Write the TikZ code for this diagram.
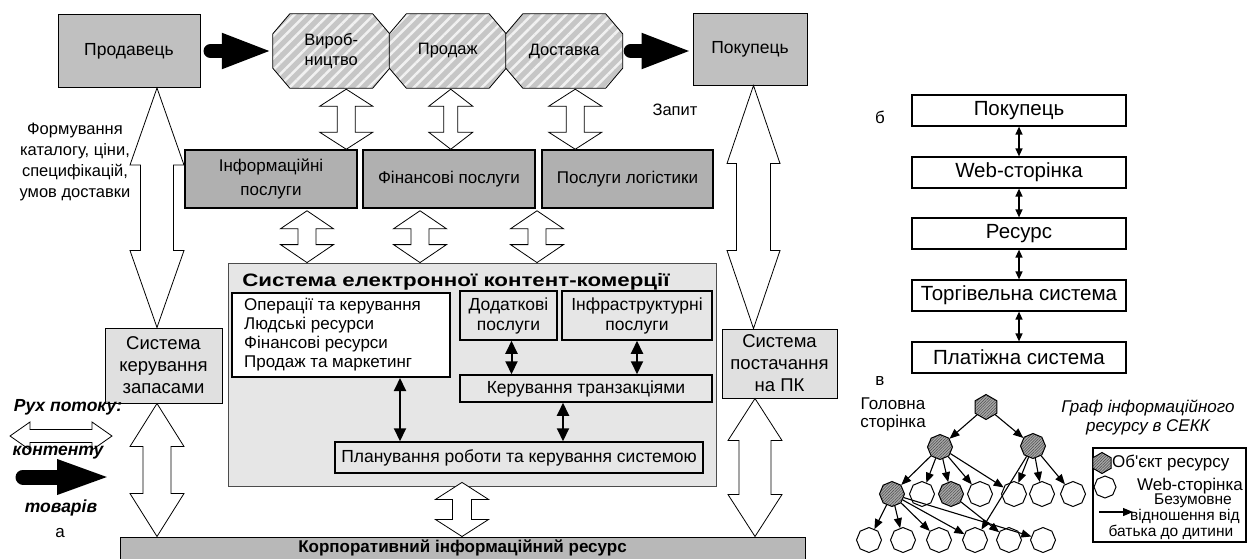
\documentclass[tikz,border=0pt]{standalone}
\usepackage{fontspec}
\setmainfont{Liberation Sans}
\newfontfamily\plainsans{Liberation Sans}
\usetikzlibrary{calc,arrows.meta,shapes.geometric,patterns.meta}

\definecolor{partygray}{HTML}{C0C0C0}
\definecolor{stagegray}{HTML}{C6C6C6}
\definecolor{svcgray}{HTML}{B0B0B0}
\definecolor{stockgray}{HTML}{E0E0E0}
\definecolor{panelgray}{HTML}{E6E6E6}
\definecolor{corpgray}{HTML}{B8B8B8}
\definecolor{nodegray}{HTML}{A8A8A8}

\pgfdeclarelayer{bg}
\pgfsetlayers{bg,main}

\newcommand\fsz[2]{\fontsize{#1}{#2}\selectfont}

% hollow double-headed block arrow, vertical: start point, end point,
% half head width, half shaft width, head length
\newcommand\hollowv[5]{%
  \draw[hollow] let \p1=#1, \p2=#2 in
    (\x1,\y1) -- (\x1+#3,\y1-#5) -- (\x1+#4,\y1-#5) -- (\x1+#4,\y2+#5)
    -- (\x1+#3,\y2+#5) -- (\x1,\y2) -- (\x1-#3,\y2+#5) -- (\x1-#4,\y2+#5)
    -- (\x1-#4,\y1-#5) -- (\x1-#3,\y1-#5) -- cycle;}
% the same, horizontal
\newcommand\hollowh[5]{%
  \draw[hollow] let \p1=#1, \p2=#2 in
    (\x1,\y1) -- (\x1+#5,\y1+#3) -- (\x1+#5,\y1+#4) -- (\x2-#5,\y1+#4)
    -- (\x2-#5,\y1+#3) -- (\x2,\y1) -- (\x2-#5,\y1-#3) -- (\x2-#5,\y1-#4)
    -- (\x1+#5,\y1-#4) -- (\x1+#5,\y1-#3) -- cycle;}
% octagonal stage outline around a rectangular node
\newcommand\stageshape[1]{%
  \path[stagefill] ($(#1.north west)+(17,0)$) -- ($(#1.north east)+(-17,0)$)
    -- ($(#1.north east)+(0,20)$) -- ($(#1.south east)+(0,-20)$)
    -- ($(#1.south east)+(-17,0)$) -- ($(#1.south west)+(17,0)$)
    -- ($(#1.south west)+(0,-20)$) -- ($(#1.north west)+(0,20)$) -- cycle;}

\tikzset{
  box/.style={draw, line width=1pt, align=center, inner sep=0pt},
  party/.style={box, fill=partygray, minimum width=142pt, minimum height=73pt, font=\fsz{17.5}{21}},
  stage/.style={align=center, inner sep=0pt, minimum width=116.5pt, minimum height=74pt, font=\fsz{16.5}{20}},
  stagefill/.style={draw, line width=0.8pt, preaction={fill=stagegray},
    pattern={Lines[angle=45,distance=8pt,line width=2.5pt]}, pattern color=white!75!stagegray},
  svc/.style={box, line width=1.5pt, fill=svcgray, minimum height=58pt, font=\fsz{17}{24}},
  stock/.style={box, fill=stockgray, font=\fsz{18.5}{22}},
  inner/.style={box, line width=1.5pt, fill=panelgray, font=\fsz{17.5}{20}},
  hollow/.style={draw, fill=white, line width=0.8pt, line join=miter},
  goods/.style={line width=14pt, line cap=round, -{Triangle[length=51pt,width=32pt]}},
  blk/.style={line width=2pt, {Triangle[length=13pt,width=12pt]}-{Triangle[length=13pt,width=12pt]}},
  chain/.style={box, line width=1.2pt, minimum width=214pt, minimum height=31pt, font=\fsz{20.5}{23}},
  small/.style={line width=1.3pt, {Triangle[length=8pt,width=7pt]}-{Triangle[length=8pt,width=7pt]}},
  obj/.style={regular polygon, regular polygon sides=8, shape border rotate=22.5, minimum size=25pt, inner sep=0pt,
    draw, line width=1pt, preaction={fill=nodegray}, pattern={Lines[angle=45,distance=2pt,line width=0.5pt]}, pattern color=black!70},
  objhex/.style={obj, regular polygon sides=6, shape border rotate=30},
  page/.style={regular polygon, regular polygon sides=8, shape border rotate=22.5, minimum size=25pt, inner sep=0pt,
    draw, line width=1pt, fill=white},
  garrow/.style={line width=1.1pt, -{Triangle[length=10pt,width=8pt]}},
  lbl/.style={inner sep=0pt, align=center},
  legendfont/.style={font=\bfseries\itshape\fsz{17.5}{20}},
}

\begin{document}
\begin{tikzpicture}[x=1pt,y=-1pt]
\useasboundingbox (0,0) rectangle (1247,558);

% ---------- value chain ----------
\node[party] (prod) at (129,51) {Продавець};
\node[party, minimum width=114pt, minimum height=72pt] (pok) at (750,49) {Покупець};
\node[stage] (oct1) at (331.25,51) {Вироб-\\ництво};
\node[stage] (oct2) at (447.75,51) {Продаж};
\node[stage] (oct3) at (564.25,51) {Доставка};
\begin{pgfonlayer}{bg}
  \stageshape{oct1}\stageshape{oct2}\stageshape{oct3}
\end{pgfonlayer}
\draw[goods, shorten <=10pt] (prod.east) -- (oct1.west);
\draw[goods, shorten <=8pt] (oct3.east) -- (oct3.east -| pok.west);

\node[lbl, font=\fsz{16.5}{19}] (zapyt) at (675,110) {Запит};
\node[lbl, font=\fsz{16.5}{21}] (form) at (75,162) {Формування\\каталогу, ціни,\\специфікацій,\\умов доставки};

% ---------- services ----------
\node[svc, minimum width=172pt] (info) at (271,179) {Інформаційні\\послуги};
\node[svc, minimum width=172pt] (fin) at (449,179) {Фінансові послуги};
\node[svc, minimum width=171pt] (log) at (627.5,179) {Послуги логістики};

\hollowv{($(oct1.south)+(15,1)$)}{(info.north)}{26.5}{9}{17}
\hollowv{($(oct2.south)+(3,1)$)}{(fin.north)}{22}{7}{17}
\hollowv{($(oct3.south)+(11,1)$)}{(log.north)}{26.5}{9}{17}

% ---------- side systems ----------
\node[stock, minimum width=117pt, minimum height=75pt] (stock) at (163.5,365.5) {Система\\керування\\запасами};
\node[stock, minimum width=115pt, minimum height=69pt] (supply) at (779.5,363.5) {Система\\постачання\\на ПК};

% ---------- e-commerce system ----------
\node[box, fill=panelgray, line width=0.8pt, draw=black!70, minimum width=488pt, minimum height=223pt] (sys) at (472,374.5) {};
\node[lbl, font=\bfseries\fsz{18}{20}, anchor=west, xscale=1.24, transform shape] (systitle) at (242,282) {Система електронної контент-комерції};
\node[box, line width=2pt, fill=white, minimum width=218pt, minimum height=84pt] (ops) at (341,335) {};
\node[lbl, anchor=west, align=left, font=\fsz{17}{19}] (opstext) at (244,335)
  {Операції та керування\\Людські ресурси\\Фінансові ресурси\\Продаж та маркетинг};
\node[inner, minimum width=97pt, minimum height=49pt] (dod) at (508.5,315.5) {Додаткові\\послуги};
\node[inner, minimum width=150pt, minimum height=49pt] (infra) at (637,315.5) {Інфраструктурні\\послуги};
\node[inner, minimum width=252pt, minimum height=27pt] (trans) at (586,388.5) {Керування транзакціями};
\node[inner, minimum width=368pt, minimum height=31pt] (plan) at (519,457.5) {Планування роботи та керування системою};

\draw[blk] ($(ops.south)+(59,0)$) -- ($(plan.north)+(-119,0)$);
\draw[blk] ($(dod.south)+(3,0)$) -- ($(dod.south |- trans.north)+(3,0)$);
\draw[blk] (infra.south) -- (infra.south |- trans.north);
\draw[blk] ($(trans.south)+(-23,0)$) -- ($(trans.south |- plan.north)+(-23,0)$);

\hollowv{($(info.south)+(36,2)$)}{(sys.north)}{26.5}{9}{18}
\hollowv{($(fin.south)+(-29,2)$)}{(sys.north)}{26.5}{9}{18}
\hollowv{($(log.south)+(-90.5,2)$)}{(sys.north)}{26.5}{9}{18}

% ---------- corporate resource ----------
\node[box, fill=corpgray, minimum width=685pt, minimum height=25pt] (corp) at (462.5,549.5) {};
\node[lbl, font=\bfseries\fsz{17}{19}] (corptext) at (462.5,548) {Корпоративний інформаційний ресурс};

\hollowv{($(sys.south)+(-10,-4)$)}{(corp.north)}{26.5}{9.5}{17}
\hollowv{($(prod.south)+(28,0)$)}{(stock.north)}{27}{16.5}{77}
\hollowv{($(stock.south)+(-6.5,0)$)}{(corp.north)}{27}{14}{43}
\hollowv{($(pok.south)+(3.5,0)$)}{(supply.north)}{26.5}{17}{78}
\hollowv{($(supply.south)+(-24.5,0)$)}{(corp.north)}{27}{16}{42}

% ---------- flow legend ----------
\node[lbl, legendfont] (flow) at (68,407) {Рух потоку:};
\coordinate (cA) at (10,436);
\coordinate (cB) at (112,436);
\hollowh{(cA)}{(cB)}{14}{6.5}{20}
\node[lbl, legendfont] (content) at (58,453) {контенту};
\coordinate (gA) at (23,477);
\coordinate (gB) at (112,477);
\draw[line width=15pt, line cap=round, -{Triangle[length=55pt,width=31pt]}] (gA) -- (gB);
\node[lbl, legendfont] (goods) at (61,508) {товарів};
\node[lbl, font=\fsz{17}{19}] (la) at (60,533) {а};

% ---------- chain of panel b ----------
\node[lbl, font=\fsz{17}{19}] (lb) at (880,117) {б};
\node[chain] (k1) at (1019,110.5) {Покупець};
\node[chain] (k2) at (1019,172.5) {Web-сторінка};
\node[chain] (k3) at (1019,233.5) {Ресурс};
\node[chain] (k4) at (1019,295.5) {Торгівельна система};
\node[chain] (k5) at (1019,357.5) {Платіжна система};
\foreach \u/\v in {k1/k2,k2/k3,k3/k4,k4/k5}
  \draw[small] (\u.south) -- (\v.north);

% ---------- graph of panel c ----------
\node[lbl, font=\fsz{17}{19}] (lc) at (880,381) {в};
\node[lbl, font=\fsz{17}{18}] (home) at (893,414) {Головна\\сторінка};
\node[lbl, font=\itshape\fsz{17}{19}] (gtitle) at (1148,417) {Граф інформаційного\\ресурсу в СЕКК};

\node[objhex] (r) at (986,407) {};
\node[obj] (a1) at (940,447) {};
\node[obj] (a2) at (1033,446) {};
\node[obj]  (b1) at (892,494) {};
\node[page] (b2) at (922,494) {};
\node[obj]  (b3) at (951,494) {};
\node[page] (b4) at (980,494) {};
\node[page] (b5) at (1014,494) {};
\node[page] (b6) at (1042,494) {};
\node[page] (b7) at (1073,494) {};
\node[page] (c1) at (869,540) {};
\node[page] (c2) at (903,540) {};
\node[page] (c3) at (939,540) {};
\node[page] (c4) at (975,540) {};
\node[page] (c5) at (1009,540) {};
\node[page] (c6) at (1043,540) {};

\foreach \u/\v in {r/a1,r/a2,a1/b1,a1/b2,a1/b3,a1/b4,a1/b5,a2/b5,a2/b6,a2/b7,a2/c4,
                   b1/c1,b1/c2,b1/c3,b1/c4,b1/c6,b3/c5}
  \draw[garrow] (\u) -- (\v);

% legend of the graph
\node[draw, line width=1.2pt, minimum width=153pt, minimum height=94pt, inner sep=0pt] (leg) at (1169.5,495) {};
\node[objhex, minimum size=21pt] (legobj) at (1102,463) {};
\node[lbl, anchor=west, font=\plainsans\fsz{17}{18}] (legobjt) at (1112,463) {Об'єкт ресурсу};
\node[page, minimum size=22pt] (legpage) at (1105,487) {};
\node[lbl, anchor=east, font=\fsz{17}{18}] (legpaget) at (1243,486) {Web-сторінка};
\node[lbl, font=\fsz{15.5}{16}] (legrel1) at (1193,501) {Безумовне};
\coordinate (lrA) at (1099,512);
\coordinate (lrB) at (1133,512);
\draw[garrow] (lrA) -- (lrB);
\node[lbl, anchor=west, font=\fsz{15.5}{16}] (legrel2) at (1130,516) {відношення від};
\node[lbl, font=\fsz{15.5}{16}] (legrel3) at (1171,532) {батька до дитини};

\end{tikzpicture}
\end{document}
